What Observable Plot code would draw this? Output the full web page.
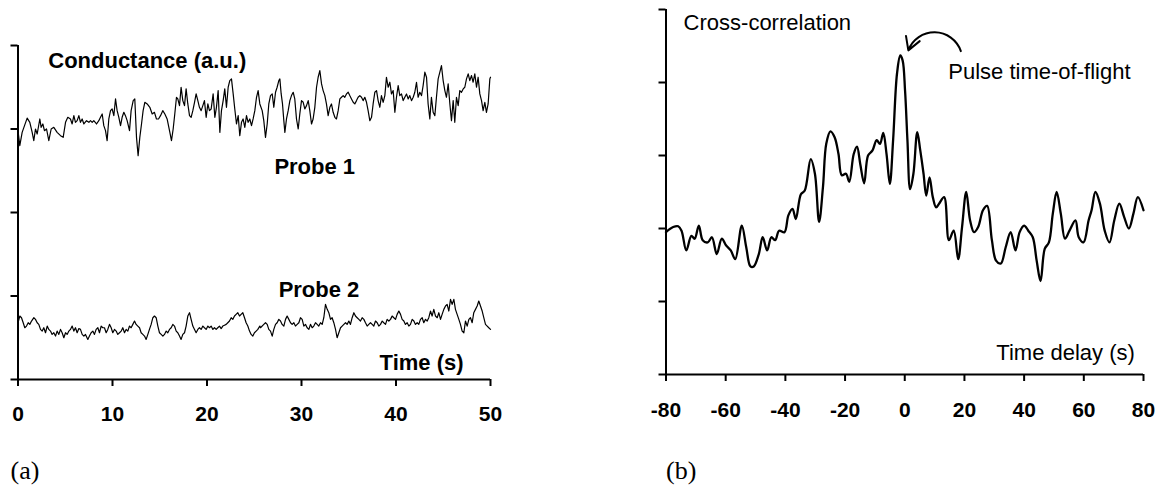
<!DOCTYPE html>
<html><head><meta charset="utf-8">
<script src="https://cdn.jsdelivr.net/npm/d3@7"></script>
<script src="https://cdn.jsdelivr.net/npm/@observablehq/plot@0.6"></script>
<style>
body{margin:0;background:#fff;}
#wrap{display:flex;width:1173px;height:488px;overflow:hidden;}
svg{display:block}
</style></head><body><div id="wrap"></div>
<script>
// ---- Panel (a): conductance signals, [time s, conductance a.u.]
const probe1 = [[0.00,2.98],[0.19,2.80],[0.44,2.96],[0.69,3.04],[0.97,3.13],[1.25,3.08],[1.50,2.96],[1.67,2.86],[1.85,3.00],[2.03,2.94],[2.31,3.12],[2.45,3.02],[2.63,3.06],[2.80,2.98],[3.02,3.00],[3.26,2.86],[3.51,3.00],[3.79,3.02],[4.14,2.96],[4.50,2.92],[4.78,2.90],[5.03,3.08],[5.27,3.14],[5.55,3.12],[5.73,3.06],[5.91,3.16],[6.08,3.08],[6.26,3.10],[6.44,3.16],[6.61,3.08],[6.79,3.12],[6.97,3.06],[7.25,3.10],[7.50,3.08],[7.67,3.10],[7.85,3.08],[8.02,3.10],[8.31,3.06],[8.55,3.10],[8.73,3.14],[8.91,3.18],[9.08,3.04],[9.26,2.98],[9.43,2.86],[9.61,3.12],[9.79,3.22],[9.96,3.24],[10.14,3.16],[10.32,3.36],[10.49,3.22],[10.67,3.14],[10.85,3.04],[11.02,3.14],[11.20,3.20],[11.37,3.16],[11.55,3.10],[11.80,2.98],[11.97,3.22],[12.19,3.34],[12.36,3.36],[12.54,2.90],[12.71,2.68],[12.89,2.90],[13.07,3.06],[13.24,3.22],[13.42,3.32],[13.67,3.30],[13.95,3.26],[14.20,3.18],[14.44,3.20],[14.65,3.12],[14.87,3.12],[15.08,3.16],[15.32,3.22],[15.54,3.18],[15.78,3.12],[16.07,2.96],[16.24,2.86],[16.42,3.00],[16.59,3.18],[16.77,3.38],[16.91,3.36],[17.09,3.28],[17.26,3.50],[17.44,3.34],[17.62,3.28],[17.79,3.48],[17.97,3.30],[18.15,3.16],[18.32,3.14],[18.50,3.22],[18.68,3.32],[18.85,3.42],[19.03,3.34],[19.20,3.26],[19.38,3.22],[19.56,3.28],[19.73,3.34],[19.91,3.14],[20.09,3.30],[20.26,3.22],[20.44,3.24],[20.65,3.42],[20.83,3.14],[21.00,3.26],[21.18,3.46],[21.36,2.96],[21.53,3.22],[21.71,3.34],[21.88,3.48],[22.06,3.26],[22.24,3.50],[22.41,3.58],[22.59,3.60],[22.77,3.42],[22.94,3.24],[23.12,3.06],[23.30,3.16],[23.47,2.92],[23.65,3.08],[23.82,3.12],[24.00,3.02],[24.18,3.16],[24.35,3.08],[24.53,3.12],[24.71,3.04],[24.88,3.12],[25.06,3.22],[25.24,3.38],[25.41,3.46],[25.59,3.30],
[25.84,3.22],[26.01,3.10],[26.19,2.90],[26.37,3.06],[26.54,3.30],[26.72,3.40],[26.90,3.42],[27.07,3.26],[27.25,3.44],[27.42,3.50],[27.60,3.58],[27.71,3.60],[27.85,3.42],[27.99,3.30],[28.13,3.10],[28.24,2.96],[28.41,3.12],[28.59,3.22],[28.77,3.34],[28.94,3.40],[29.12,3.44],[29.29,3.36],[29.47,3.12],[29.65,3.00],[29.82,3.18],[30.00,3.34],[30.18,3.32],[30.35,3.24],[30.53,3.28],[30.71,3.34],[30.88,3.22],[31.06,3.06],[31.23,3.12],[31.41,3.26],[31.59,3.50],[31.76,3.62],[31.94,3.70],[32.12,3.54],[32.29,3.46],[32.47,3.40],[32.64,3.30],[32.82,3.16],[33.00,3.26],[33.17,3.30],[33.35,3.20],[33.53,3.14],[33.70,3.12],[33.88,3.22],[34.06,3.36],[34.23,3.38],[34.41,3.40],[34.58,3.38],[34.76,3.42],[34.94,3.44],[35.11,3.40],[35.29,3.36],[35.47,3.32],[35.64,3.30],[35.82,3.34],[35.99,3.38],[36.17,3.40],[36.35,3.38],[36.52,3.34],[36.70,3.38],[36.88,3.32],[37.05,3.22],[37.23,3.10],[37.41,3.14],[37.58,3.30],[37.76,3.44],[37.94,3.46],[38.11,3.34],[38.29,3.26],[38.46,3.40],[38.64,3.32],[38.82,3.40],[38.99,3.62],[39.17,3.50],[39.35,3.56],[39.52,3.42],[39.70,3.46],[39.88,3.20],[40.05,3.38],[40.23,3.52],[40.40,3.40],[40.58,3.42],[40.76,3.34],[40.93,3.38],[41.11,3.42],[41.29,3.36],[41.46,3.40],[41.64,3.34],[41.82,3.38],[41.99,3.44],[42.17,3.56],[42.34,3.38],[42.52,3.44],[42.70,3.40],[42.87,3.52],[43.05,3.68],[43.23,3.62],[43.40,3.30],[43.58,3.12],[43.75,3.38],[43.93,3.20],[44.11,3.16],[44.28,3.38],[44.46,3.60],[44.64,3.68],[44.81,3.76],[44.99,3.58],[45.17,3.46],[45.34,3.38],[45.52,3.54],[45.70,3.30],[45.87,3.10],[46.05,3.34],[46.22,3.08],[46.40,3.38],[46.58,3.28],[46.75,3.46],[46.93,3.44],[47.11,3.48],[47.28,3.50],[47.46,3.60],[47.64,3.66],[47.81,3.58],[47.99,3.64],[48.16,3.56],[48.34,3.66],[48.52,3.50],[48.69,3.62],[48.87,3.42],[49.05,3.34],[49.22,3.22],[49.40,3.32],[49.57,3.20],[49.75,3.30],[49.93,3.60],[50.00,3.62]];

const probe2 = [[0.00,0.68],[0.19,0.76],[0.37,0.74],[0.55,0.68],[0.72,0.62],[0.90,0.64],[1.08,0.68],[1.25,0.66],[1.43,0.70],[1.68,0.74],[1.85,0.72],[2.03,0.68],[2.20,0.66],[2.38,0.60],[2.56,0.58],[2.73,0.62],[2.91,0.56],[3.09,0.64],[3.26,0.60],[3.44,0.58],[3.61,0.54],[3.79,0.56],[3.97,0.52],[4.14,0.58],[4.32,0.54],[4.50,0.60],[4.67,0.56],[4.85,0.50],[5.03,0.56],[5.20,0.54],[5.38,0.58],[5.55,0.60],[5.73,0.64],[5.91,0.58],[6.08,0.62],[6.26,0.56],[6.44,0.61],[6.61,0.60],[6.79,0.54],[6.97,0.52],[7.14,0.54],[7.39,0.48],[7.56,0.52],[7.74,0.56],[7.92,0.58],[8.09,0.54],[8.27,0.60],[8.45,0.62],[8.62,0.56],[8.80,0.64],[8.98,0.62],[9.15,0.62],[9.33,0.56],[9.50,0.60],[9.68,0.66],[9.86,0.62],[10.03,0.56],[10.21,0.60],[10.39,0.58],[10.56,0.54],[10.74,0.56],[10.92,0.58],[11.09,0.62],[11.27,0.56],[11.44,0.60],[11.62,0.58],[11.80,0.64],[11.97,0.62],[12.15,0.66],[12.33,0.70],[12.50,0.66],[12.68,0.64],[12.86,0.62],[13.03,0.56],[13.21,0.54],[13.39,0.52],[13.56,0.48],[13.74,0.54],[13.91,0.60],[14.09,0.66],[14.27,0.74],[14.44,0.76],[14.62,0.74],[14.80,0.64],[14.97,0.56],[15.15,0.54],[15.33,0.52],[15.50,0.54],[15.68,0.58],[15.85,0.56],[16.03,0.60],[16.21,0.62],[16.38,0.66],[16.56,0.64],[16.74,0.58],[16.91,0.56],[17.09,0.52],[17.26,0.48],[17.44,0.54],[17.62,0.56],[17.79,0.64],[17.97,0.76],[18.15,0.80],[18.32,0.72],[18.50,0.64],[18.68,0.60],[18.85,0.56],[19.03,0.60],[19.20,0.62],[19.38,0.60],[19.56,0.64],[19.73,0.62],[19.91,0.60],[20.09,0.64],[20.26,0.62],[20.44,0.64],[20.62,0.60],[20.79,0.62],[20.97,0.60],[21.14,0.62],[21.32,0.64],[21.50,0.61],[21.67,0.64],[21.85,0.65],[22.03,0.66],[22.20,0.68],[22.38,0.70],[22.56,0.74],[22.73,0.72],[22.91,0.76],[23.08,0.78],[23.26,0.80],[23.44,0.76],[23.61,0.78],[23.79,0.80],[23.97,0.74],[24.14,0.68],[24.32,0.64],[24.50,0.58],[24.67,0.54],[24.85,0.52],[25.02,0.56],[25.20,0.58],[25.38,0.60],[25.59,0.64],
[25.66,0.62],[26.01,0.66],[26.19,0.68],[26.37,0.66],[26.54,0.60],[26.72,0.58],[26.90,0.52],[27.07,0.60],[27.25,0.66],[27.42,0.68],[27.60,0.72],[27.78,0.70],[27.95,0.66],[28.13,0.64],[28.31,0.72],[28.48,0.76],[28.66,0.72],[28.84,0.68],[29.01,0.66],[29.19,0.68],[29.36,0.64],[29.54,0.66],[29.72,0.68],[29.89,0.74],[30.07,0.72],[30.25,0.64],[30.42,0.66],[30.60,0.62],[30.78,0.60],[30.95,0.66],[31.13,0.62],[31.30,0.64],[31.48,0.68],[31.66,0.66],[31.83,0.64],[32.01,0.68],[32.19,0.66],[32.36,0.74],[32.54,0.90],[32.72,0.84],[32.89,0.80],[33.07,0.72],[33.24,0.74],[33.42,0.68],[33.60,0.60],[33.77,0.50],[33.95,0.56],[34.13,0.62],[34.30,0.64],[34.48,0.66],[34.66,0.68],[34.83,0.66],[35.01,0.70],[35.18,0.66],[35.36,0.74],[35.54,0.80],[35.71,0.76],[35.89,0.74],[36.07,0.72],[36.24,0.70],[36.42,0.74],[36.60,0.72],[36.77,0.68],[36.95,0.64],[37.12,0.66],[37.30,0.68],[37.48,0.66],[37.65,0.64],[37.83,0.70],[38.01,0.68],[38.18,0.64],[38.36,0.66],[38.54,0.70],[38.71,0.68],[38.89,0.66],[39.06,0.72],[39.24,0.70],[39.42,0.72],[39.59,0.76],[39.77,0.74],[39.95,0.72],[40.12,0.78],[40.30,0.82],[40.48,0.78],[40.65,0.72],[40.83,0.70],[41.00,0.66],[41.18,0.68],[41.36,0.64],[41.53,0.66],[41.71,0.72],[41.89,0.70],[42.06,0.66],[42.24,0.68],[42.41,0.66],[42.59,0.72],[42.77,0.74],[42.94,0.68],[43.12,0.72],[43.30,0.70],[43.47,0.74],[43.65,0.82],[43.82,0.76],[44.00,0.84],[44.18,0.76],[44.36,0.74],[44.53,0.80],[44.71,0.72],[44.88,0.78],[45.06,0.84],[45.24,0.88],[45.41,0.90],[45.59,0.82],[45.77,0.96],[45.94,0.90],[46.12,0.96],[46.29,0.84],[46.47,0.78],[46.65,0.72],[46.82,0.66],[47.00,0.58],[47.18,0.56],[47.35,0.70],[47.53,0.64],[47.71,0.72],[47.88,0.74],[48.06,0.68],[48.23,0.80],[48.41,0.84],[48.59,0.88],[48.76,0.94],[48.94,0.88],[49.12,0.82],[49.29,0.74],[49.47,0.66],[49.65,0.64],[49.82,0.62],[50.00,0.60]];

const timeTicks = [0, 10, 20, 30, 40, 50];
const condTicks = [0, 1, 2, 3, 4];
const labelsA = [
  {x: 3.2, y: 3.82, text: "Conductance (a.u.)", anchor: "start"},
  {x: 31.4, y: 2.54, text: "Probe 1", anchor: "middle"},
  {x: 31.85, y: 1.07, text: "Probe 2", anchor: "middle"},
  {x: 47.15, y: 0.20, text: "Time (s)", anchor: "end"}
];

// ---- Panel (b): cross-correlation, [time delay s, correlation a.u.]
const xcorr = [[-80.0,1.95],[-77.6,2.02],[-75.9,2.03],[-74.8,1.97],[-73.2,1.70],[-71.5,1.90],[-70.4,1.86],[-69.0,2.04],[-67.7,1.84],[-66.0,1.81],[-64.6,1.88],[-63.0,1.65],[-61.3,1.86],[-59.9,1.77],[-58.3,1.70],[-56.8,1.58],[-54.6,2.04],[-53.1,1.74],[-51.7,1.48],[-50.6,1.48],[-48.9,1.65],[-47.6,1.88],[-46.1,1.70],[-44.7,1.88],[-43.4,1.84],[-42.1,1.97],[-40.3,1.95],[-39.0,2.18],[-37.6,2.27],[-36.5,2.13],[-34.8,2.47],[-33.5,2.52],[-31.5,2.95],[-30.1,2.75],[-28.7,2.09],[-27.4,2.57],[-26.3,3.16],[-24.9,3.33],[-23.5,3.25],[-22.2,3.02],[-21.1,2.73],[-19.7,2.75],[-18.6,2.64],[-17.1,3.02],[-16.0,3.12],[-14.9,2.88],[-13.6,2.62],[-12.3,3.00],[-10.8,3.07],[-9.4,3.21],[-8.3,3.16],[-7.2,3.31],[-6.1,3.02],[-5.0,2.61],[-3.9,3.21],[-2.6,4.12],[-1.5,4.37],[-0.7,4.30],[0.1,3.89],[0.9,3.21],[1.8,2.54],[2.9,2.75],[4.2,3.32],[5.2,3.07],[6.3,2.75],[7.2,2.45],[8.3,2.70],[9.4,2.43],[10.5,2.29],[11.5,2.34],[13.2,2.43],[14.8,1.84],[16.4,1.97],[17.9,1.58],[19.2,2.02],[20.6,2.50],[21.9,2.11],[23.2,1.95],[24.6,2.02],[26.2,2.25],[27.6,2.31],[29.2,1.84],[30.6,1.56],[32.2,1.52],[33.8,1.74],[35.5,1.95],[37.1,1.70],[38.5,1.95],[40.0,2.04],[41.4,1.97],[42.9,1.88],[44.2,1.56],[45.5,1.28],[46.9,1.72],[48.3,1.81],[49.6,2.20],[50.9,2.50],[52.3,2.20],[53.7,1.86],[55.2,1.97],[57.2,2.11],[58.3,1.88],[59.9,1.81],[61.6,2.11],[62.6,2.25],[63.9,2.50],[65.4,2.34],[67.0,1.97],[68.6,1.81],[70.2,2.11],[71.9,2.34],[73.5,2.16],[75.1,2.00],[76.6,2.20],[78.1,2.43],[80.0,2.25]];

const delayTicks = [-80, -60, -40, -20, 0, 20, 40, 60, 80];
const corrTicks = [0, 1, 2, 3, 4, 5];
const labelsB = [
  {x: -74.1, y: 4.81, text: "Cross-correlation", anchor: "start"},
  {x: 14.6, y: 4.15, text: "Pulse time-of-flight", anchor: "start"},
  {x: 77.1, y: 0.30, text: "Time delay (s)", anchor: "end"}
];
const arrowB = [{x1: 18.8, y1: 4.43, x2: 1.2, y2: 4.44}];

const SANS = "'Liberation Sans', Arial, Helvetica, sans-serif";
const SERIF = "'Liberation Serif', 'Times New Roman', serif";

function textMarks(labels, opts) {
  return ["start", "middle", "end"].map(a =>
    Plot.text(labels.filter(d => d.anchor === a), {x: "x", y: "y", text: "text", textAnchor: a, fill: "black", ...opts}));
}

const plotA = Plot.plot({
  width: 600, height: 488,
  marginLeft: 17.5, marginRight: 110, marginTop: 45, marginBottom: 109,
  style: {fontFamily: SANS, background: "white", overflow: "visible"},
  x: {domain: [0, 50], axis: null},
  y: {domain: [0, 4], axis: null},
  marks: [
    Plot.ruleX([0], {strokeWidth: 2}),
    Plot.ruleY([0], {strokeWidth: 2}),
    Plot.axisX({ticks: timeTicks, tickSize: 7, tickPadding: 20, strokeWidth: 2, fontSize: 21, fontWeight: "bold", tickFormat: d => String(d), label: null}),
    Plot.axisY({ticks: condTicks, tickSize: 7, strokeWidth: 2, tickFormat: () => "", label: null}),
    Plot.line(probe1, {x: d => d[0], y: d => d[1], stroke: "black", strokeWidth: 1.2}),
    Plot.line(probe2, {x: d => d[0], y: d => d[1], stroke: "black", strokeWidth: 1.2}),
    ...textMarks(labelsA, {fontSize: 22, fontWeight: "bold"}),
    Plot.text(["(a)"], {frameAnchor: "bottom-left", textAnchor: "start", dx: -7.5, dy: 99, fontSize: 26, fontFamily: SERIF, fill: "black"})
  ]
});

const plotB = Plot.plot({
  width: 573, height: 488,
  marginLeft: 65.5, marginRight: 30, marginTop: 9, marginBottom: 114,
  style: {fontFamily: SANS, background: "white", overflow: "visible"},
  x: {domain: [-80, 80], axis: null},
  y: {domain: [0, 5], axis: null},
  marks: [
    Plot.ruleX([-80], {strokeWidth: 2}),
    Plot.ruleY([0], {strokeWidth: 2}),
    Plot.axisX({ticks: delayTicks, tickSize: 7, tickPadding: 21, strokeWidth: 2, fontSize: 21, fontWeight: "bold", tickFormat: d => String(d), label: null}),
    Plot.axisY({ticks: corrTicks, tickSize: 7, strokeWidth: 2, tickFormat: () => "", label: null}),
    Plot.line(xcorr, {x: d => d[0], y: d => d[1], stroke: "black", strokeWidth: 2.3, curve: "catmull-rom", strokeLinejoin: "round"}),
    Plot.arrow(arrowB, {x1: "x1", y1: "y1", x2: "x2", y2: "y2", bend: -70, strokeWidth: 2, headLength: 11, stroke: "black"}),
    ...textMarks(labelsB, {fontSize: 22}),
    Plot.text(["(b)"], {frameAnchor: "bottom-left", textAnchor: "start", dx: 0, dy: 104, fontSize: 26, fontFamily: SERIF, fill: "black"})
  ]
});

document.getElementById("wrap").append(plotA, plotB);
</script></body></html>
